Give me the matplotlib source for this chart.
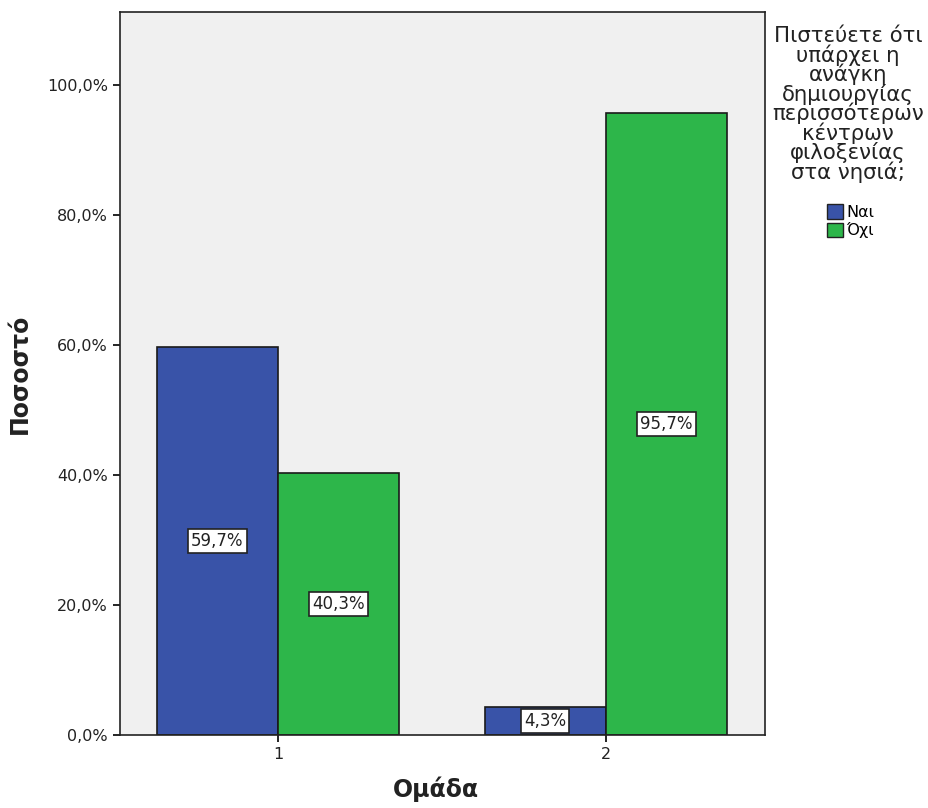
import matplotlib
matplotlib.use("Agg")
import matplotlib.pyplot as plt
from matplotlib.patches import Patch
import numpy as np

groups = ["1", "2"]
series_names = ["Ναι", "Όχι"]
nai = [59.7, 4.3]
oxi = [40.3, 95.7]
yticks = [0, 20, 40, 60, 80, 100]
ytick_labels = ["0,0%", "20,0%", "40,0%", "60,0%", "80,0%", "100,0%"]
legend_title = "Πιστεύετε ότι\nυπάρχει η\nανάγκη\nδημιουργίας\nπερισσότερων\nκέντρων\nφιλοξενίας\nστα νησιά;"
colors = ["#3953A8", "#2DB64A"]

plt.rcParams['font.family'] = ['DejaVu Sans']
fig = plt.figure(figsize=(9.29, 8.08), dpi=100)
ax = fig.add_axes([0.129, 0.0903, 0.6945, 0.895])
ax.set_facecolor("#F0F0F0")

x = np.arange(1, len(groups) + 1)
w = 0.369
for i, (vals, c) in enumerate([(nai, colors[0]), (oxi, colors[1])]):
    xs = x + (i - 0.5) * w
    ax.bar(xs, vals, width=w, color=c, edgecolor="#1a1a1a", linewidth=1.2)
    for xi, v in zip(xs, vals):
        ax.text(xi, v / 2, f"{v:.1f}%".replace(".", ","), ha="center", va="center",
                fontsize=12, color="#222222",
                bbox=dict(boxstyle="square,pad=0.18", fc="white", ec="#222222", lw=1.2))

ax.set_xlim(0.518, 2.485)
ax.set_ylim(0, 111.2)
ax.set_xticks(x)
ax.set_xticklabels(groups, fontsize=11.5, color="#222222")
ax.set_yticks(yticks)
ax.set_yticklabels(ytick_labels, fontsize=11.5, color="#222222")
ax.tick_params(axis="both", length=5, width=1.2)
for s in ax.spines.values():
    s.set_linewidth(1.2)
    s.set_color("#222222")
ax.set_xlabel("Ομάδα", fontsize=17, fontweight="bold", color="#222222")
ax.set_ylabel("Ποσοστό", fontsize=17, fontweight="bold", color="#222222")
ax.xaxis.set_label_coords(0.49, -0.057)
ax.yaxis.set_label_coords(-0.136, 0.5)

fig.text(0.913, 0.968, legend_title, ha="center", va="top", fontsize=15.3,
         linespacing=0.9, color="#222222")
handles = [Patch(facecolor=colors[0], edgecolor="#222222"),
           Patch(facecolor=colors[1], edgecolor="#222222")]
fig.legend(handles, series_names, loc="upper left", bbox_to_anchor=(0.882, 0.757),
           frameon=False, fontsize=11.5, handlelength=1.0, handleheight=1.0,
           handletextpad=0.2, labelspacing=0.15, borderpad=0)

fig.savefig("out.png", dpi=100)
